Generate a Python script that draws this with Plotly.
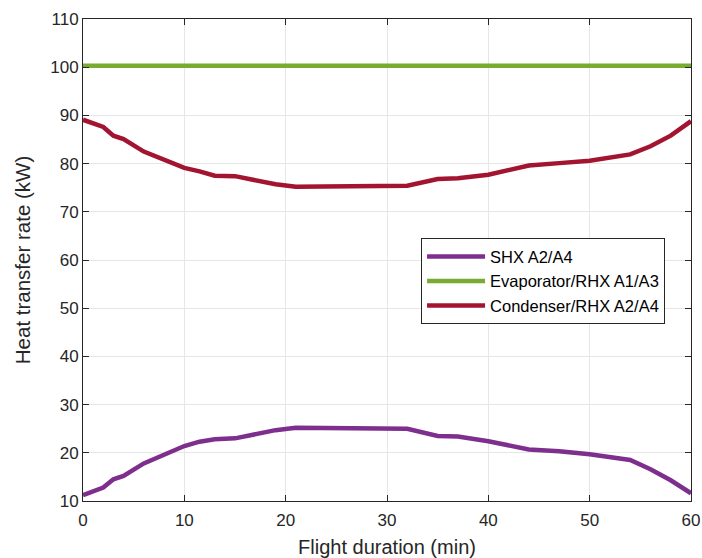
import plotly.graph_objects as go

time_min = [0, 2, 3, 4, 6, 7, 8.3, 10, 11.5, 13, 15, 17, 19, 21, 31, 32, 35, 37, 40, 44, 47, 50, 54, 56, 58, 60]
shx = [11.2, 12.8, 14.5, 15.2, 17.8, 18.7, 20.0, 21.4, 22.3, 22.8, 23.0, 23.9, 24.7, 25.2, 25.2, 25.0, 23.5, 23.4, 22.4, 20.7, 20.3, 19.7, 18.5, 16.6, 14.3, 11.6]
evaporator = [100.3] * len(time_min)
condenser = [89.1, 87.6, 85.8, 85.1, 82.5, 81.7, 80.5, 79.1, 78.4, 77.5, 77.4, 76.5, 75.7, 75.2, 75.2, 75.4, 76.8, 76.95, 77.7, 79.6, 80.1, 80.6, 81.9, 83.6, 85.8, 88.8]

names = ["SHX A2/A4", "Evaporator/RHX A1/A3", "Condenser/RHX A2/A4"]
colors = ["#7E2F8E", "#77AC30", "#A2142F"]

fig = go.Figure()
for i, (name, ys, c) in enumerate(zip(names, [shx, evaporator, condenser], colors)):
    fig.add_trace(go.Scatter(x=time_min, y=ys, mode="lines", name=name,
                             line=dict(color=c, width=4.5)))

axcol = "#262626"
font = "Liberation Sans, Arial, Helvetica, sans-serif"
common = dict(showline=True, linecolor=axcol, linewidth=1, mirror="allticks",
              ticks="inside", ticklen=6, tickcolor=axcol, showgrid=True,
              gridcolor="#e6e6e6", gridwidth=1, zeroline=False, automargin=False,
              tickfont=dict(family=font, size=17, color=axcol))
fig.update_xaxes(range=[0, 60], tickvals=[0, 10, 20, 30, 40, 50, 60],
                 ticklabelstandoff=4,
                 title=dict(text="Flight duration (min)", font=dict(family=font, size=20, color=axcol), standoff=10),
                 **common)
fig.update_yaxes(range=[10, 110], tickvals=list(range(10, 111, 10)),
                 title=dict(text="Heat transfer rate (kW)", font=dict(family=font, size=20.5, color=axcol), standoff=14),
                 **common)
fig.update_layout(
    width=702, height=558,
    margin=dict(l=83, r=11, t=19, b=57),
    paper_bgcolor="white", plot_bgcolor="white",
    showlegend=True,
    legend=dict(x=0.556, y=0.545, xanchor="left", yanchor="top",
                bgcolor="white", bordercolor=axcol, borderwidth=1,
                font=dict(family=font, size=16.5, color="black"),
                itemwidth=58, tracegroupgap=0),
)
fig.write_html("out.html")
